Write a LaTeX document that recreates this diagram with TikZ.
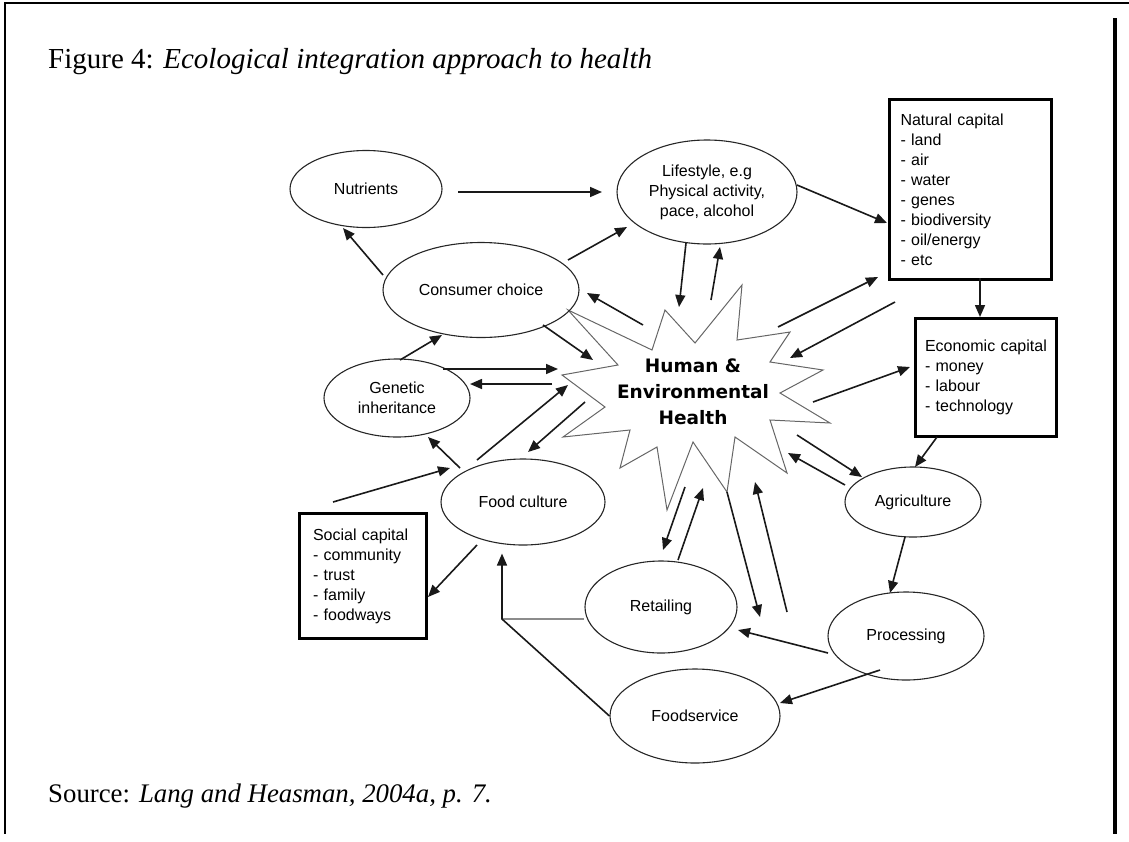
\documentclass[tikz,border=0pt]{standalone}
\usepackage{fontspec}
\setmainfont{Liberation Serif}
\newfontfamily\dgsans{Liberation Sans}
\newfontfamily\hubsans{DejaVu Sans}
\newcommand\dgfont{\dgsans\fontsize{16}{20}\selectfont}
\usetikzlibrary{shapes.geometric,arrows.meta}
\tikzset{
  ell/.style={draw=black!85, line width=1.1pt, ellipse, inner sep=0pt, font=\dgfont, align=center},
  capbox/.style={draw=black, line width=3pt, rectangle, font=\dgfont, align=left, anchor=north west, inner ysep=0pt},
  arr/.style={draw=black!90, line width=1.6pt, -{Triangle[length=12pt,width=10pt]}},
  greyline/.style={draw=black!45, line width=2.2pt},
  starline/.style={draw=black!60, line width=1pt, line join=miter},
  frameline/.style={draw=black, line width=2pt},
}
\begin{document}
\begin{tikzpicture}[x=1pt,y=-1pt]
\useasboundingbox (0,0) rectangle (1129,841);
% frame
\draw[frameline] (4,3) -- (1129,3);
\draw[frameline] (5,3) -- (5,834);
\draw[draw=black, line width=3.5pt] (1115,18) -- (1115,834);
% title and source
\node[anchor=base west, font=\fontsize{29}{34}\selectfont, inner sep=0pt] (title) at (48,68)
  {Figure 4: \textit{Ecological integration approach to health}};
\node[anchor=base west, font=\fontsize{26.8}{32}\selectfont, inner sep=0pt] (source) at (48,802)
  {Source: \textit{Lang and Heasman, 2004a, p. 7.}};
% star
\draw[starline] (742,285) -- (737,340) -- (790,332) -- (770,362) -- (823,370) -- (780,393)
  -- (830,423) -- (770,420) -- (787,473) -- (735,437) -- (727,492) -- (693,442)
  -- (667,510) -- (657,447) -- (620,468) -- (630,430) -- (563,437) -- (605,407)
  -- (562,375) -- (618,365) -- (568,310) -- (652,350) -- (665,310) -- (695,343) -- cycle;
\node[font={\hubsans\bfseries\fontsize{18.5}{26}\selectfont}, align=center] (hub) at (693,392)
  {Human \&\\Environmental\\Health};
% ellipses
\node[ell, minimum width=152, minimum height=77] (nut) at (366,189) {Nutrients};
\node[ell, minimum width=196, minimum height=95] (cons) at (481,290) {Consumer choice};
\node[ell, minimum width=180, minimum height=104] (life) at (707,192) {Lifestyle, e.g\\Physical activity,\\pace, alcohol};
\node[ell, minimum width=146, minimum height=78] (gen) at (397,398) {Genetic\\inheritance};
\node[ell, minimum width=164, minimum height=86] (food) at (523,502) {Food culture};
\node[ell, minimum width=152, minimum height=92] (ret) at (661,607) {Retailing};
\node[ell, minimum width=136, minimum height=70] (agri) at (913,502) {Agriculture};
\node[ell, minimum width=156, minimum height=88] (proc) at (906,636) {Processing};
\node[ell, minimum width=170, minimum height=94] (fserv) at (695,716) {Foodservice};
% boxes
\node[capbox, minimum height=180, text width=140, inner xsep=11] (nat) at (888,98)
  {Natural capital\\- land\\- air\\- water\\- genes\\- biodiversity\\- oil/energy\\- etc};
\node[capbox, minimum height=118, text width=122, inner xsep=9.5] (econ) at (914,317)
  {Economic capital\\- money\\- labour\\- technology};
\node[capbox, minimum height=125, text width=100, inner xsep=13.5] (soc) at (298,512)
  {Social capital\\- community\\- trust\\- family\\- foodways};
% connector end points
\coordinate (nutA) at (458,192);   \coordinate (lifeA) at (602,192);
\coordinate (consB) at (383,275);  \coordinate (nutB) at (343,228);
\coordinate (consC) at (568,260);  \coordinate (lifeC) at (627,227);
\coordinate (hubD) at (643,325);   \coordinate (consD) at (587,293);
\coordinate (consE) at (543,325);  \coordinate (hubE) at (593,360);
\coordinate (lifeF) at (686,243);  \coordinate (hubF) at (679,307);
\coordinate (hubG) at (711,300);   \coordinate (lifeG) at (720,247);
\coordinate (lifeH) at (797,185);  \coordinate (natH) at (887,223);
\coordinate (hubI) at (778,327);   \coordinate (natI) at (878,277);
\coordinate (natJ) at (895,302);   \coordinate (hubJ) at (790,358);
\coordinate (hubK) at (813,402);   \coordinate (econK) at (910,367);
\coordinate (natL) at (980,278);   \coordinate (econL) at (980,317);
\coordinate (econM) at (937,437);  \coordinate (agriM) at (915,467);
\coordinate (hubN) at (797,435);   \coordinate (agriN) at (862,477);
\coordinate (agriO) at (845,485);  \coordinate (hubO) at (788,453);
\coordinate (agriP) at (905,537);  \coordinate (procP) at (890,593);
\coordinate (procQ) at (828,653);  \coordinate (retQ) at (738,630);
\coordinate (procR) at (880,670);  \coordinate (fservR) at (780,703);
\coordinate (hubS) at (727,492);   \coordinate (procS) at (760,617);
\coordinate (procT) at (787,612);  \coordinate (hubT) at (755,482);
\coordinate (hubU) at (685,487);   \coordinate (retU) at (663,550);
\coordinate (retV) at (678,560);   \coordinate (hubV) at (703,488);
\coordinate (jn) at (502,619);
\coordinate (foodY) at (477,545);  \coordinate (socY) at (428,597);
\coordinate (socZ) at (333,502);   \coordinate (foodZ) at (450,468);
\coordinate (foodAA) at (460,468); \coordinate (genAA) at (428,437);
\coordinate (foodAB) at (477,460); \coordinate (hubAB) at (568,385);
\coordinate (hubAC) at (585,402);  \coordinate (foodAC) at (528,452);
\coordinate (genAD) at (443,369);  \coordinate (hubAD) at (558,369);
\coordinate (hubAE) at (552,384);  \coordinate (genAE) at (470,384);
\coordinate (genAF) at (400,360);  \coordinate (consAF) at (442,335);
% connectors
\draw[arr] (nutA) -- (lifeA);
\draw[arr] (consB) -- (nutB);
\draw[arr] (consC) -- (lifeC);
\draw[arr] (hubD) -- (consD);
\draw[arr] (consE) -- (hubE);
\draw[arr] (lifeF) -- (hubF);
\draw[arr] (hubG) -- (lifeG);
\draw[arr] (lifeH) -- (natH);
\draw[arr] (hubI) -- (natI);
\draw[arr] (natJ) -- (hubJ);
\draw[arr] (hubK) -- (econK);
\draw[arr] (natL) -- (econL);
\draw[arr] (econM) -- (agriM);
\draw[arr] (hubN) -- (agriN);
\draw[arr] (agriO) -- (hubO);
\draw[arr] (agriP) -- (procP);
\draw[arr] (procQ) -- (retQ);
\draw[arr] (procR) -- (fservR);
\draw[arr] (hubS) -- (procS);
\draw[arr] (procT) -- (hubT);
\draw[arr] (hubU) -- (retU);
\draw[arr] (retV) -- (hubV);
\draw[greyline] (jn) -- (jn -| ret.west);
\draw[arr, shorten >=8pt] (fserv.west) -- (jn) -- (jn |- food.south);
\draw[arr] (foodY) -- (socY);
\draw[arr] (socZ) -- (foodZ);
\draw[arr] (foodAA) -- (genAA);
\draw[arr] (foodAB) -- (hubAB);
\draw[arr] (hubAC) -- (foodAC);
\draw[arr] (genAD) -- (hubAD);
\draw[arr] (hubAE) -- (genAE);
\draw[arr] (genAF) -- (consAF);
\end{tikzpicture}
\end{document}
